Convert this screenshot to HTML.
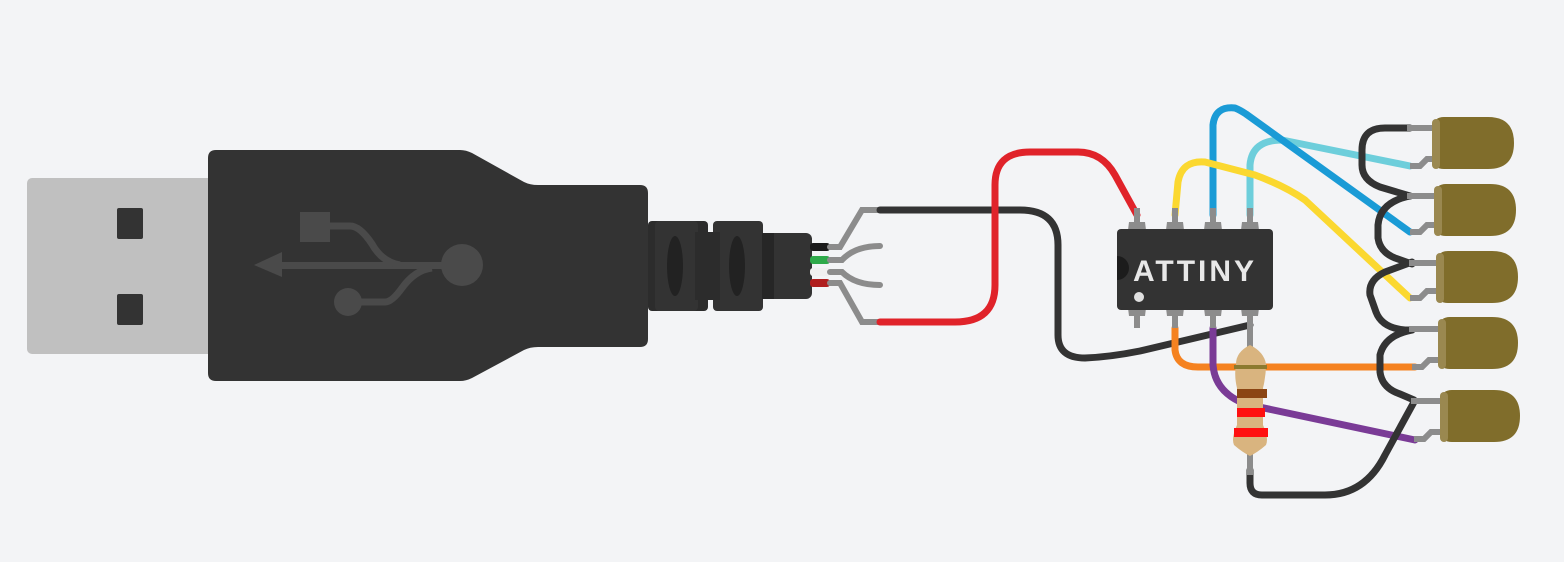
<!DOCTYPE html>
<html><head><meta charset="utf-8"><style>
html,body{margin:0;padding:0;background:#f3f4f6;}
svg{display:block;}
</style></head><body>
<svg width="1564" height="562" viewBox="0 0 1564 562" xmlns="http://www.w3.org/2000/svg">
<rect width="1564" height="562" fill="#f3f4f6"/>
<g>
  <rect x="27" y="178" width="190" height="176" rx="5" fill="#c0c0c0"/>
  <rect x="117" y="208" width="26" height="31" rx="2" fill="#333"/>
  <rect x="117" y="294" width="26" height="31" rx="2" fill="#333"/>
  <path d="M216,150 L460,150 Q466,150 472,153 L524,182 Q530,185 538,185 L640,185 Q648,185 648,193 L648,339 Q648,347 640,347 L538,347 Q530,347 524,350 L472,378 Q466,381 460,381 L216,381 Q208,381 208,373 L208,158 Q208,150 216,150 Z" fill="#333"/>
  <g fill="#4a4a4a" stroke="none">
    <polygon points="254,265 282,252 282,277"/>
    <rect x="280" y="262" width="170" height="7"/>
    <circle cx="462" cy="265" r="21"/>
    <rect x="300" y="212" width="30" height="30"/>
    <circle cx="348" cy="302" r="14"/>
    <path d="M328,226 L350,226 Q360,226 372,244 Q382,262 400,265" fill="none" stroke="#4a4a4a" stroke-width="7"/>
    <path d="M355,302 L385,302 Q392,302 402,288 Q415,270 432,268" fill="none" stroke="#4a4a4a" stroke-width="7"/>
  </g>
</g>
<g>
  <rect x="648" y="221" width="60" height="90" rx="4" fill="#2c2c2c"/>
  <rect x="655" y="221" width="43" height="90" rx="4" fill="#333"/>
  <rect x="713" y="221" width="50" height="90" rx="4" fill="#333"/>
  <rect x="695" y="232" width="25" height="68" fill="#2c2c2c"/>
  <ellipse cx="675" cy="266" rx="8" ry="30" fill="#222"/>
  <ellipse cx="737" cy="266" rx="8" ry="30" fill="#222"/>
  <rect x="762" y="233" width="50" height="66" rx="6" fill="#333"/>
  <rect x="762" y="233" width="12" height="66" fill="#262626"/>
  <rect x="810" y="243" width="20" height="8" rx="3" fill="#1a1a1a"/>
  <rect x="810" y="256" width="20" height="8" rx="3" fill="#2eaa4a"/>
  <rect x="810" y="268" width="20" height="8" rx="3" fill="#f0f0f0"/>
  <rect x="810" y="279" width="20" height="8" rx="3" fill="#b01e1e"/>
</g>
<g fill="none" stroke="#8c8c8c" stroke-width="6" stroke-linecap="round">
  <path d="M830,247 L840,247 L862,210 L880,210"/>
  <path d="M830,260 L842,260 Q855,246 880,246"/>
  <path d="M830,272 L842,272 Q855,285 880,285"/>
  <path d="M830,283 L840,283 L862,322 L880,322"/>
</g>
<g fill="none" stroke-linecap="round" stroke-linejoin="round" stroke-width="7">
  <path d="M880,210 L1020,210 Q1058,210 1058,245 L1058,335 Q1058,358 1085,358 Q1110,357 1140,351 L1250,325" stroke="#333"/>
  <path d="M880,322 L955,322 Q995,322 995,285 L995,185 Q995,152 1030,152 L1078,152 Q1102,152 1115,175 L1137,215" stroke="#e0232a"/>
  <path d="M1250,215 L1250,165 Q1252,140 1282,140 L1410,166" stroke="#6dcedb"/>
  <path d="M1213,215 L1213,125 Q1215,106 1235,108 Q1240,110 1246,114 L1410,232" stroke="#1a9bd6"/>
  <path d="M1175,215 L1178,182 Q1182,160 1205,162 L1255,175 Q1285,186 1305,200 L1410,298" stroke="#fbd830"/>
  <path d="M1175,328 L1175,350 Q1177,367 1198,367 L1415,367" stroke="#f58220"/>
  <path d="M1213,328 L1213,365 Q1215,392 1245,404 L1415,440" stroke="#7a3b96"/>
  <path d="M1410,128 L1385,128 Q1362,128 1362,150 L1362,165 Q1362,180 1380,187 L1410,196" stroke="#333"/>
  <path d="M1410,196 Q1380,202 1378,225 L1378,238 Q1380,252 1395,258 L1412,264" stroke="#333"/>
  <path d="M1412,262 L1385,272 Q1368,280 1370,295 L1376,312 Q1382,328 1405,330 L1412,330" stroke="#333"/>
  <path d="M1412,330 Q1385,335 1380,355 L1380,372 Q1382,388 1400,394 L1414,400" stroke="#333"/>
  <path d="M1414,402 L1385,455 Q1365,495 1325,495 L1262,495 Q1250,495 1250,483 L1250,470" stroke="#333"/>
</g>
<g>
  <g fill="#8c8c8c">
    <rect x="1134" y="208" width="6" height="20"/><rect x="1172" y="208" width="6" height="20"/><rect x="1210" y="208" width="6" height="20"/><rect x="1247" y="208" width="6" height="20"/>
    <path d="M1128,230 L1129,222 L1145,222 L1146,230 Z"/><path d="M1166,230 L1167,222 L1183,222 L1184,230 Z"/><path d="M1204,230 L1205,222 L1221,222 L1222,230 Z"/><path d="M1241,230 L1242,222 L1258,222 L1259,230 Z"/>
    <rect x="1134" y="310" width="6" height="18"/><rect x="1172" y="310" width="6" height="18"/><rect x="1210" y="310" width="6" height="18"/><rect x="1247" y="310" width="6" height="22"/>
    <path d="M1128,308 L1129,316 L1145,316 L1146,308 Z"/><path d="M1166,308 L1167,316 L1183,316 L1184,308 Z"/><path d="M1204,308 L1205,316 L1221,316 L1222,308 Z"/><path d="M1241,308 L1242,316 L1258,316 L1259,308 Z"/>
  </g>
  <rect x="1117" y="229" width="156" height="81" rx="4" fill="#333"/>
  <path d="M1117,256 A12,12 0 0 1 1117,280 Z" fill="#1c1c1c"/>
  <circle cx="1139" cy="297" r="5" fill="#e0e0e0"/>
  <text x="1195" y="281" text-anchor="middle" font-family="Liberation Sans, sans-serif" font-size="30" font-weight="bold" fill="#e8e8e8" letter-spacing="3">ATTINY</text>
</g>
<g>
  <rect x="1247" y="330" width="6" height="145" fill="#8c8c8c"/>
  <path d="M1236,364 Q1236,352 1250,345 Q1264,352 1266,364 Q1266,376 1263,388 L1263,425 Q1269,438 1266,445 Q1258,452 1250,456 Q1242,452 1234,445 Q1231,438 1237,425 L1237,388 Q1234,376 1236,364 Z" fill="#d9b47f"/>
  <rect x="1234" y="365" width="33" height="4" fill="#8c7a30"/>
  <rect x="1237" y="389" width="30" height="9" fill="#8b4513"/>
  <rect x="1237" y="408" width="28" height="9" fill="#ff1010"/>
  <rect x="1234" y="428" width="34" height="9" fill="#ff1010"/>
</g>
<g>
  <g>
    <path d="M1407,128 L1435,128 M1410,166 L1420,166 L1427,159 L1436,159" stroke="#8c8c8c" stroke-width="6" fill="none"/>
    <path d="M1444,117 L1488,117 Q1514,117 1514,143 Q1514,169 1488,169 L1444,169 Q1434,169 1434,160 L1434,126 Q1434,117 1444,117 Z" fill="#806d2b"/>
    <rect x="1432" y="119" width="8" height="50" rx="4" fill="#9a8850"/>
  </g>
  <g>
    <path d="M1407,196 L1435,196 M1410,232 L1420,232 L1427,225 L1436,225" stroke="#8c8c8c" stroke-width="6" fill="none"/>
    <path d="M1446,184 L1490,184 Q1516,184 1516,210 Q1516,236 1490,236 L1446,236 Q1436,236 1436,227 L1436,193 Q1436,184 1446,184 Z" fill="#806d2b"/>
    <rect x="1434" y="186" width="8" height="50" rx="4" fill="#9a8850"/>
  </g>
  <g>
    <path d="M1409,263 L1437,263 M1410,298 L1420,298 L1427,291 L1438,291" stroke="#8c8c8c" stroke-width="6" fill="none"/>
    <path d="M1448,251 L1492,251 Q1518,251 1518,277 Q1518,303 1492,303 L1448,303 Q1438,303 1438,294 L1438,260 Q1438,251 1448,251 Z" fill="#806d2b"/>
    <rect x="1436" y="253" width="8" height="50" rx="4" fill="#9a8850"/>
  </g>
  <g>
    <path d="M1409,329 L1439,329 M1412,367 L1422,367 L1429,360 L1440,360" stroke="#8c8c8c" stroke-width="6" fill="none"/>
    <path d="M1450,317 L1492,317 Q1518,317 1518,343 Q1518,369 1492,369 L1450,369 Q1440,369 1440,360 L1440,326 Q1440,317 1450,317 Z" fill="#806d2b"/>
    <rect x="1438" y="319" width="8" height="50" rx="4" fill="#9a8850"/>
  </g>
  <g>
    <path d="M1411,401 L1441,401 M1414,439 L1424,439 L1431,432 L1442,432" stroke="#8c8c8c" stroke-width="6" fill="none"/>
    <path d="M1452,390 L1494,390 Q1520,390 1520,416 Q1520,442 1494,442 L1452,442 Q1442,442 1442,433 L1442,399 Q1442,390 1452,390 Z" fill="#806d2b"/>
    <rect x="1440" y="392" width="8" height="50" rx="4" fill="#9a8850"/>
  </g>
</g>
</svg>
</body></html>
